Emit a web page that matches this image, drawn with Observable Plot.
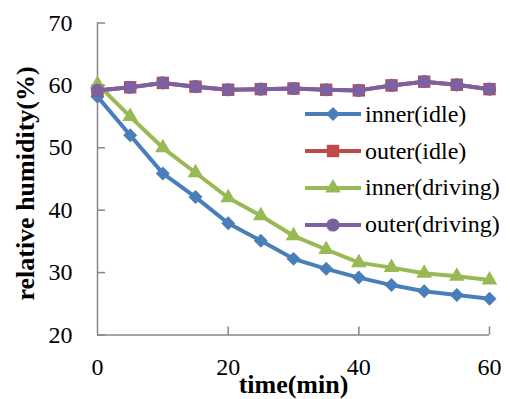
<!DOCTYPE html>
<html>
<head>
<meta charset="utf-8">
<script src="https://cdn.jsdelivr.net/npm/d3@7"></script>
<script src="https://cdn.jsdelivr.net/npm/@observablehq/plot@0.6"></script>
<style>
  html, body { margin: 0; padding: 0; background: white; }
  #wrap { position: relative; width: 510px; height: 399px; }
  #legend { position: absolute; left: 305px; top: 96px; font-family: 'Liberation Serif', 'Times New Roman', serif; font-size: 24px; }
  .row { display: flex; align-items: center; height: 36.8px; }
  .row svg { margin-right: 4px; }
  #wrap svg text { font-family: 'Liberation Serif', 'Times New Roman', serif; }
</style>
</head>
<body>
<div id="wrap"></div>
<script>
const time = [0, 5, 10, 15, 20, 25, 30, 35, 40, 45, 50, 55, 60];
const innerIdle    = [58.2, 52.0, 45.9, 42.1, 37.9, 35.1, 32.2, 30.6, 29.2, 28.0, 27.0, 26.4, 25.8];
const outerIdle    = [59.2, 59.7, 60.4, 59.8, 59.3, 59.4, 59.5, 59.3, 59.2, 60.0, 60.6, 60.1, 59.4];
const innerDriving = [60.2, 55.0, 50.0, 46.0, 42.0, 39.1, 35.9, 33.7, 31.6, 30.8, 29.9, 29.4, 28.8];
const outerDriving = [59.2, 59.7, 60.4, 59.8, 59.3, 59.4, 59.5, 59.3, 59.2, 60.0, 60.6, 60.1, 59.4];
const seriesNames = ["inner(idle)", "outer(idle)", "inner(driving)", "outer(driving)"];
const xTicks = [0, 20, 40, 60];
const yTicks = [20, 30, 40, 50, 60, 70];
const xLabel = "time(min)";
const yLabel = "relative humidity(%)";

const FONT = "'Liberation Serif', 'Times New Roman', serif";
const colors = ["#4A7EBB", "#BE4B48", "#98B954", "#7D60A0"];
const symbols = ["diamond2", "square", "triangle", "circle"];
const radii = [6.3, 7.0, 5.8, 6.6];
const d3symbols = [d3.symbolDiamond2, d3.symbolSquare, d3.symbolTriangle, d3.symbolCircle];

const allValues = [innerIdle, outerIdle, innerDriving, outerDriving];
const series = allValues.map((vals, i) => time.map((t, j) => ({t, v: vals[j], s: seriesNames[i]})));

const marks = [
  Plot.ruleX([0], {stroke: "#868686", strokeWidth: 1.5}),
  Plot.ruleY([20], {stroke: "#868686", strokeWidth: 1.5}),
  Plot.axisY({ticks: yTicks, tickSize: -8, tickPadding: 33, stroke: "#868686", strokeWidth: 1.5, label: null, fontSize: 24, fontFamily: FONT, fill: "black"}),
  Plot.axisX({ticks: xTicks.filter(d => d !== 0), tickSize: -8, tickPadding: 31, stroke: "#868686", strokeWidth: 1.5, label: null, text: null, fontSize: 24}),
  Plot.axisX({ticks: xTicks, tickSize: 0, tickPadding: 23, label: null, fontSize: 24, fontFamily: FONT, fill: "black"}),
];
series.forEach((data, i) => {
  marks.push(Plot.line(data, {x: "t", y: "v", stroke: colors[i], strokeWidth: 4}));
  marks.push(Plot.dot(data, {x: "t", y: "v", symbol: symbols[i], r: radii[i], fill: colors[i], stroke: null}));
});
marks.push(Plot.text([yLabel], {text: d => d, frameAnchor: "left", textAnchor: "middle", rotate: -90, dx: -64, dy: 4.5, lineAnchor: "bottom", fontSize: 26, fontWeight: "bold", fontFamily: FONT, fill: "black"}));
marks.push(Plot.text([xLabel], {text: d => d, frameAnchor: "bottom", textAnchor: "middle", dy: 58, lineAnchor: "bottom", fontSize: 26, fontWeight: "bold", fontFamily: FONT, fill: "black"}));

const chart = Plot.plot({
  width: 510,
  height: 399,
  marginLeft: 97,
  marginRight: 21,
  marginTop: 22.5,
  marginBottom: 64.5,
  x: {domain: [0, 60], axis: null},
  y: {domain: [20, 70], axis: null},
  style: {fontFamily: FONT, fontSize: "24px", background: "white", overflow: "visible"},
  marks
});
const wrap = document.getElementById("wrap");
wrap.appendChild(chart);

const legend = d3.select(wrap).append("div").attr("id", "legend");
seriesNames.forEach((name, i) => {
  const row = legend.append("div").attr("class", "row");
  const svg = row.append("svg").attr("width", 56).attr("height", 20);
  svg.append("line").attr("x1", 0).attr("x2", 56).attr("y1", 10).attr("y2", 10).attr("stroke", colors[i]).attr("stroke-width", 4);
  const size = Math.PI * radii[i] * radii[i];
  svg.append("path").attr("transform", "translate(28,10)").attr("d", d3.symbol(d3symbols[i], size)()).attr("fill", colors[i]);
  row.append("span").text(name);
});
</script>
</body>
</html>
